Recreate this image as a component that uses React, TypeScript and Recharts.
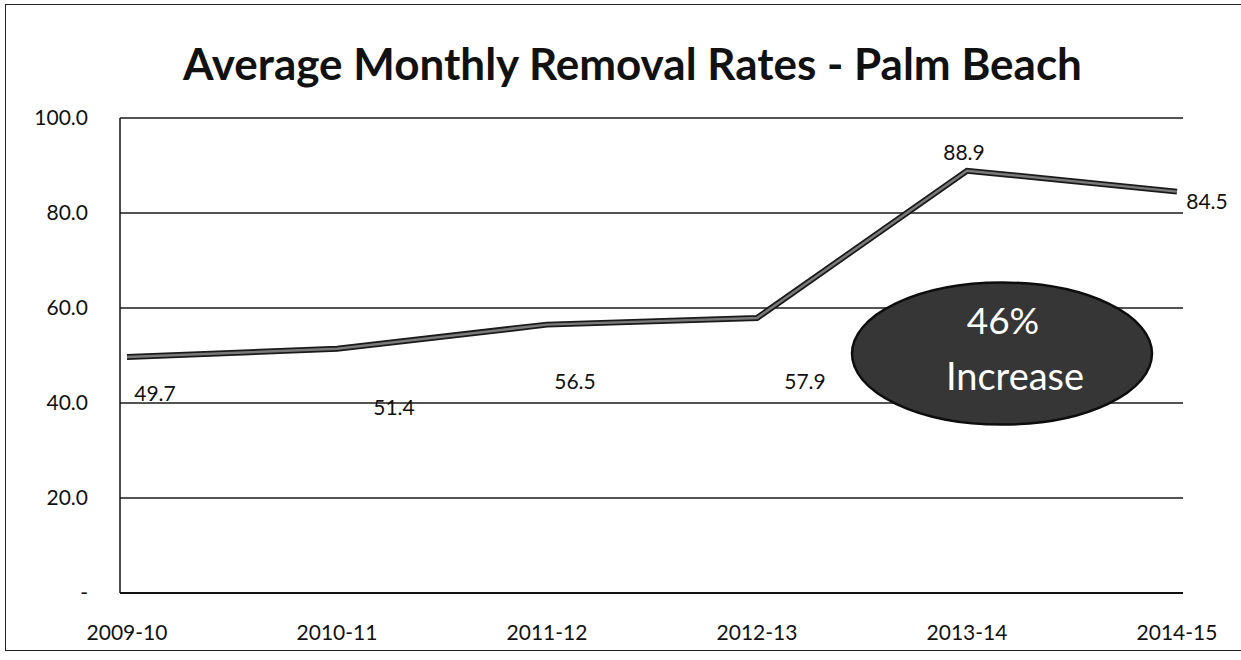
import { LineChart, Line, XAxis, YAxis, CartesianGrid, LabelList, ReferenceDot } from 'recharts'

const seasons = ['2009-10', '2010-11', '2011-12', '2012-13', '2013-14', '2014-15']
const removalRates = [49.7, 51.4, 56.5, 57.9, 88.9, 84.5]
const yTicks = [0, 20, 40, 60, 80, 100]
const calloutLines = ['46%', 'Increase']

// label nudges, in px, by point index (the original labels sit off the points)
const LABEL_OFFSETS = [
  [28, 36],
  [57, 58],
  [28, 56],
  [48, 63],
  [-3, -19],
  [30, 9],
]

const FONT = 'Lato, "Noto Sans", sans-serif'

const data = seasons.map((s, i) => ({ season: s, rate: removalRates[i] }))

function RateLabel(props: any) {
  const { x, y, value, index } = props
  const [dx, dy] = LABEL_OFFSETS[index] || [0, 0]
  return (
    <text
      x={x + dx}
      y={y + dy}
      textAnchor="middle"
      dominantBaseline="central"
      fontSize={21}
      fontFamily={FONT}
      fill="#111"
    >
      {Number(value).toFixed(1)}
    </text>
  )
}

function Callout(props: any) {
  const { cx, cy } = props
  const x = cx + 35
  return (
    <g>
      <ellipse cx={x} cy={cy} rx={150} ry={71} fill="#363636" stroke="#0d0d0d" strokeWidth={2.5} />
      <text x={x + 1} y={cy - 34} textAnchor="middle" dominantBaseline="central" fontSize={37} fontFamily={FONT} fill="#fff">
        {calloutLines[0]}
      </text>
      <text x={x + 13} y={cy + 21} textAnchor="middle" dominantBaseline="central" fontSize={38} fontFamily={FONT} fill="#fff">
        {calloutLines[1]}
      </text>
    </g>
  )
}

export default function App() {
  return (
    <div style={{ position: 'absolute', left: 0, top: 0, width: 1241, height: 660, background: '#fff' }}>
      <div
        style={{
          position: 'absolute',
          left: 5,
          top: 4,
          width: 1240,
          height: 647,
          border: '1.5px solid #222',
          boxSizing: 'border-box',
        }}
      />
      <div
        style={{
          position: 'absolute',
          left: 0,
          top: 37,
          width: 1265,
          textAlign: 'center',
          fontFamily: FONT,
          fontWeight: 700,
          fontSize: 44,
          color: '#111',
        }}
      >
        Average Monthly Removal Rates - Palm Beach
      </div>
      <LineChart
        width={1241}
        height={660}
        data={data}
        margin={{ top: 118, right: 58, left: 10, bottom: 17 }}
        style={{ position: 'absolute', left: 0, top: 0 }}
      >
        <CartesianGrid vertical={false} stroke="#1a1a1a" strokeWidth={1.3} />
        <XAxis
          dataKey="season"
          padding={{ left: 7, right: 6 }}
          height={50}
          tickLine={false}
          axisLine={{ stroke: '#111', strokeWidth: 2 }}
          tickMargin={26}
          tick={{ fontSize: 21, fontFamily: FONT, fill: '#111' }}
        />
        <YAxis
          domain={[0, 100]}
          ticks={yTicks}
          width={110}
          tickLine={false}
          axisLine={{ stroke: '#111', strokeWidth: 1.5 }}
          tickMargin={26}
          tick={{ fontSize: 21, fontFamily: FONT, fill: '#111' }}
          tickFormatter={(v: number) => (v === 0 ? '-' : v.toFixed(1))}
        />
        <Line
          dataKey="rate"
          stroke="#1a1a1a"
          strokeWidth={6}
          dot={false}
          isAnimationActive={false}
        />
        <Line
          dataKey="rate"
          stroke="#7a7a7a"
          strokeWidth={2.5}
          dot={false}
          isAnimationActive={false}
        >
          <LabelList dataKey="rate" content={<RateLabel />} />
        </Line>
        <ReferenceDot x="2013-14" y={50.4} shape={<Callout />} />
      </LineChart>
    </div>
  )
}
